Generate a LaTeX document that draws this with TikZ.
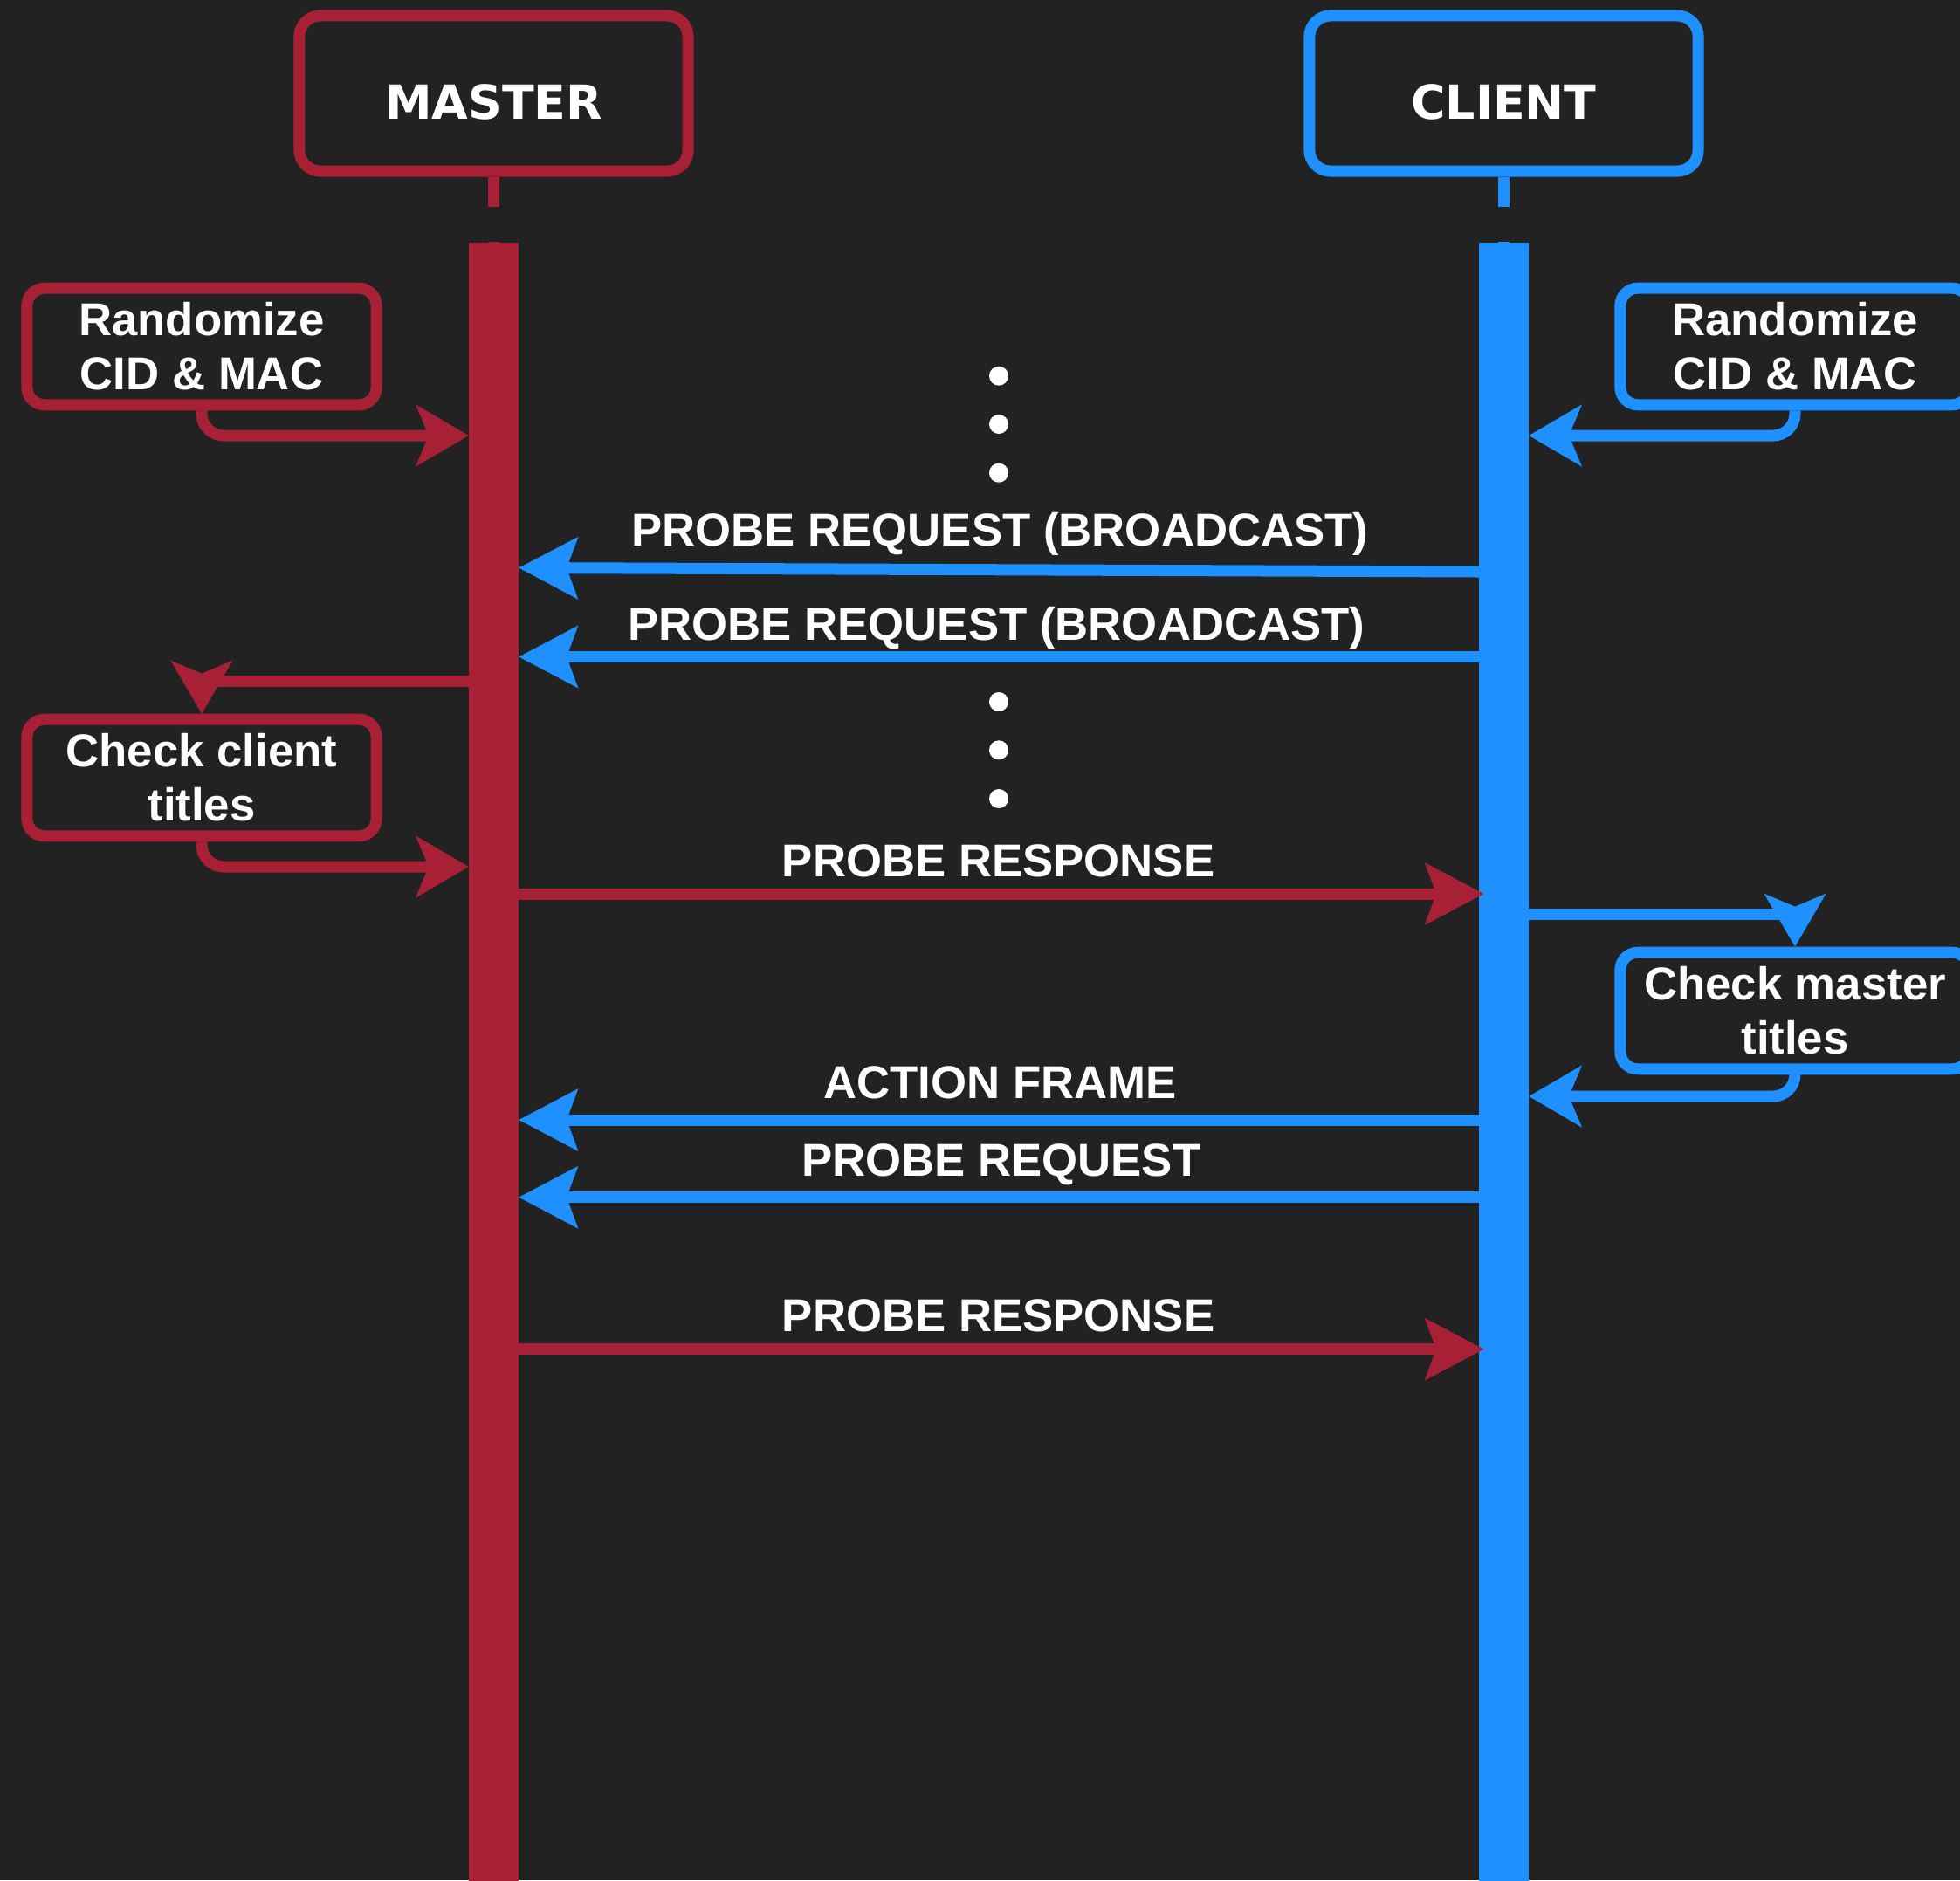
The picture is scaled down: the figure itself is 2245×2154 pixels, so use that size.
\documentclass[tikz,border=0pt]{standalone}
\usepackage{fontspec}
\setmainfont{Liberation Sans}
\newfontfamily\headfont{DejaVu Sans}
\usetikzlibrary{arrows.meta}

\definecolor{bgdark}{HTML}{222222}
\definecolor{mred}{HTML}{A82035}
\definecolor{cblue}{HTML}{1E90FF}

\tikzset{
  every node/.style={text=white},
  headbox/.style={draw, line width=0.13cm, rounded corners=0.24cm, fill=bgdark,
    minimum width=4.45cm, minimum height=1.78cm, inner sep=0pt},
  headtext/.style={font=\headfont\bfseries\fontsize{15.3pt}{18pt}\selectfont,
    anchor=base, inner sep=0pt},
  notebox/.style={draw, line width=0.13cm, rounded corners=0.2cm, fill=bgdark,
    minimum width=4cm, minimum height=1.335cm, inner sep=0pt, align=center,
    font=\bfseries\fontsize{15pt}{17.64pt}\selectfont},
  msgtext/.style={font=\bfseries\fontsize{15pt}{18pt}\selectfont,
    anchor=base, inner sep=0pt},
  lifebar/.style={fill, minimum width=0.57cm, minimum height=18.85cm,
    inner sep=0pt, outer sep=0pt},
  stem/.style={line width=0.13cm, dash pattern=on 0.34cm off 0.40cm},
  msg/.style={line width=0.13cm,
    -{Stealth[length=0.67cm, width=0.69cm, inset=0.12cm]}},
  selfmsg/.style={line width=0.13cm, rounded corners=0.25cm,
    -{Stealth[length=0.6cm, width=0.69cm, inset=0.14cm]}},
  dotmark/.style={circle, fill=white, minimum size=0.22cm, inner sep=0pt},
}

\begin{document}
\begin{tikzpicture}[x=0.01cm, y=-0.01cm]
  % canvas
  \fill[bgdark] (0,0) rectangle (2245,2154);
  \useasboundingbox (0,0) rectangle (2245,2154);
  \clip (0,0) rectangle (2245,2154);

  % participants
  \node[headbox, draw=mred]  (mhead) at (565.5,107) {};
  \node[headbox, draw=cblue] (chead) at (1722.5,107) {};
  \node[headtext] (mname) at (565.5,136.7) {MASTER};
  \node[headtext] (cname) at (1722.5,136.7) {CLIENT};

  % dashed lifelines, mostly hidden behind the activation bars
  \coordinate (mend) at (565.5,2154);
  \coordinate (cend) at (1722.5,2154);
  \draw[stem, mred]  (mhead.south) -- (mend);
  \draw[stem, cblue] (chead.south) -- (cend);

  % activation bars
  \node[lifebar, mred]  (mbar) at (565.5,1221.5) {};
  \node[lifebar, cblue] (cbar) at (1722.5,1221.5) {};

  % notes
  \node[notebox, draw=mred]  (mrand)  at (231,397)   {Randomize\\CID \& MAC};
  \node[notebox, draw=cblue] (crand)  at (2056,397)  {Randomize\\CID \& MAC};
  \node[notebox, draw=mred]  (mcheck) at (231,891)   {Check client\\titles};
  \node[notebox, draw=cblue] (ccheck) at (2056,1158) {Check master\\titles};

  % self connectors between bars and notes
  \draw[selfmsg, mred]  (mrand.south) |- (mbar.west |- 0,499);
  \draw[selfmsg, cblue] (crand.south) |- (cbar.east |- 0,499);
  \draw[selfmsg, mred, sharp corners] (mbar.west |- 0,780) -| (mcheck.north);
  \draw[selfmsg, mred]  (mcheck.south) |- (mbar.west |- 0,993);
  \draw[selfmsg, cblue, sharp corners] (cbar.east |- 0,1047) -| (ccheck.north);
  \draw[selfmsg, cblue] (ccheck.south) |- (cbar.east |- 0,1256);

  % messages
  \draw[msg, cblue] (cbar.west |- 0,655)   -- (mbar.east |- 0,650.5);
  \draw[msg, cblue] (cbar.west |- 0,752.5) -- (mbar.east |- 0,752.5);
  \draw[msg, mred]  (mbar.east |- 0,1024)  -- ([xshift=0.06cm]cbar.west |- 0,1024);
  \draw[msg, cblue] (cbar.west |- 0,1283)  -- (mbar.east |- 0,1283);
  \draw[msg, cblue] (cbar.west |- 0,1371.7) -- (mbar.east |- 0,1371.7);
  \draw[msg, mred]  (mbar.east |- 0,1545.7) -- ([xshift=0.06cm]cbar.west |- 0,1545.7);

  % message labels
  \node[msgtext] (lbl1) at (1145.4,625.7) {PROBE REQUEST (BROADCAST)};
  \node[msgtext] (lbl2) at (1141.4,733)   {PROBE REQUEST (BROADCAST)};
  \node[msgtext] (lbl3) at (1143.6,1004.3) {PROBE RESPONSE};
  \node[msgtext] (lbl4) at (1145.5,1258.3) {ACTION FRAME};
  \node[msgtext] (lbl5) at (1146.8,1347.3) {PROBE REQUEST};
  \node[msgtext] (lbl6) at (1143.6,1525)   {PROBE RESPONSE};

  % ellipsis dots
  \node[dotmark] (dA1) at (1144,430.7) {};
  \node[dotmark] (dA2) at (1144,486)   {};
  \node[dotmark] (dA3) at (1144,541.7) {};
  \node[dotmark] (dB1) at (1144,804)   {};
  \node[dotmark] (dB2) at (1144,859.3) {};
  \node[dotmark] (dB3) at (1144,915)   {};
\end{tikzpicture}
\end{document}
